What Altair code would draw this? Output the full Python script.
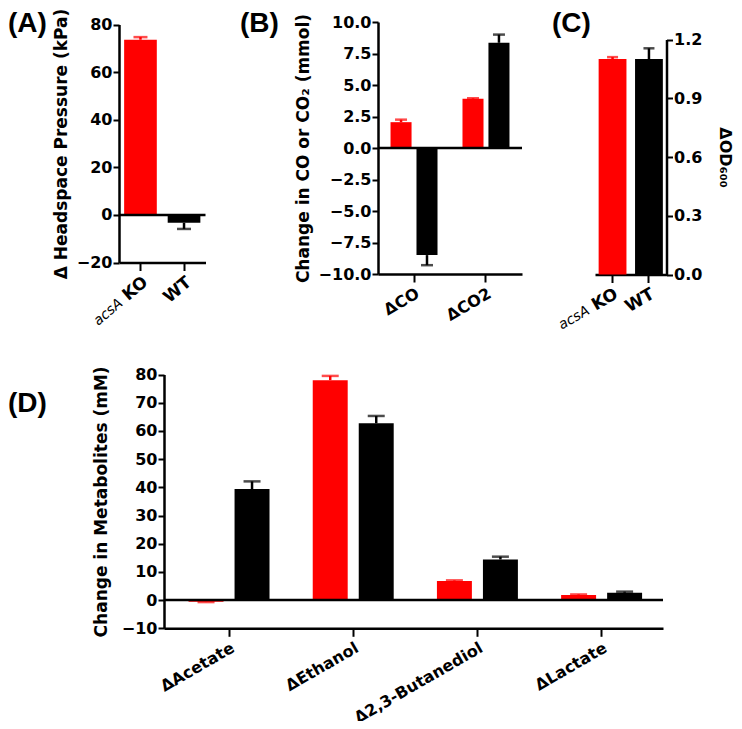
import altair as alt
import pandas as pd

FONT = "DejaVu Sans"
LABEL_FONT = "Liberation Sans"
RED = "#ff0000"
BLACK = "#000000"

# ---------------- data ----------------
strains = ["acsA KO", "WT"]

# (A) headspace pressure
a_values = [73.6, -3.3]
a_errors = [1.1, 2.6]

# (B) change in CO / CO2
b_gases = ["ΔCO", "ΔCO2"]
b_ko = [2.05, 3.9]
b_ko_err = [0.2, 0.05]
b_wt = [-8.5, 8.35]
b_wt_err = [0.8, 0.65]

# (C) OD600
c_values = [1.10, 1.10]
c_errors = [0.01, 0.055]

# (D) metabolites
d_metabolites = ["ΔAcetate", "ΔEthanol", "Δ2,3-Butanediol", "ΔLactate"]
d_ko = [-0.6, 78.0, 6.8, 1.8]
d_ko_err = [0.1, 1.5, 0.2, 0.2]
d_wt = [39.4, 62.7, 14.4, 2.6]
d_wt_err = [2.7, 2.6, 1.0, 0.4]

panel_letters = ["(A)", "(B)", "(C)", "(D)"]

W, H = 726, 713


def make_df(cats, groups, vals, errs):
    df = pd.DataFrame({"cat": cats, "grp": groups, "value": vals, "err": errs})
    df["end"] = [v + (e if v >= 0 else -e) for v, e in zip(df["value"], df["err"])]
    return df


color_scale = alt.Scale(domain=strains, range=[RED, BLACK])

axis_common = dict(
    domainColor="black", domainWidth=2.5, tickColor="black", tickWidth=2,
    labelFont=FONT, labelFontSize=16, labelFontWeight="bold", labelColor="black",
    titleFont=FONT, titleFontSize=17, titleFontWeight="bold", titleColor="black",
    grid=False,
)


def yaxis(**kw):
    d = dict(axis_common)
    d.update(dict(tickSize=6, labelPadding=1))
    d.update(kw)
    return alt.Axis(**d)


def xaxis(**kw):
    d = dict(axis_common)
    d.update(dict(tickSize=8, labelPadding=3))
    d.update(kw)
    return alt.Axis(**d)


def panel(df, sort, xs, ys, ytitle, ya, xa, cap, offset_scale=None, zero=None, extra=None):
    base = alt.Chart(df)
    xenc = alt.X("cat:N", sort=sort, scale=xs, axis=xa, title=None)
    xenc_plain = alt.X("cat:N", sort=sort, title=None)
    col = alt.Color("grp:N", scale=color_scale, legend=None)
    enc_extra = {}
    if offset_scale is not None:
        enc_extra["xOffset"] = alt.XOffset("grp:N", sort=strains, scale=offset_scale)
    bars = base.mark_bar().encode(
        x=xenc, y=alt.Y("value:Q", scale=ys, axis=ya, title=ytitle), color=col, **enc_extra
    )
    lines = base.mark_rule(strokeWidth=2.5).encode(
        x=xenc_plain, y=alt.Y("value:Q", title=ytitle), y2="end:Q", color=col, **enc_extra
    )
    caps = base.mark_tick(thickness=2.5, size=cap).encode(
        x=xenc_plain, y=alt.Y("end:Q", title=ytitle), color=col, **enc_extra
    )
    layers = [bars, lines, caps]
    if zero is not None:
        z = alt.Chart(pd.DataFrame({"z": [0]})).mark_rule(color="black", strokeWidth=2.5).encode(
            y=alt.Y("z:Q", title=ytitle), x=alt.value(zero[0]), x2=alt.value(zero[1])
        )
        layers.append(z)
    if extra is not None:
        layers.extend(extra)
    return alt.layer(*layers)


def acsa_text(sort, ypix, angle, dx):
    return alt.Chart(pd.DataFrame({"cat": ["acsA KO"], "t": ["acsA"]})).mark_text(
        angle=angle, align="right", baseline="top", dx=dx, dy=2,
        font=FONT, fontStyle="italic", fontSize=14, color="black",
    ).encode(x=alt.X("cat:N", sort=sort, title=None), y=alt.value(ypix), text="t:N")


ko_expr = "datum.value == 'acsA KO' ? 'KO' : datum.value"

# ---------------- panel A ----------------
dfA = make_df(strains, strains, a_values, a_errors)
pA = panel(
    dfA, strains,
    alt.Scale(domain=strains, range=[111, 197.5], paddingInner=0.25, paddingOuter=0.118),
    alt.Scale(domain=[-20, 80], range=[254.5, 16.5], nice=False, zero=False),
    "Δ Headspace Pressure (kPa)",
    yaxis(orient="left", offset=-111, values=[-20, 0, 20, 40, 60, 80], titlePadding=6,
          titleFontSize=17),
    xaxis(orient="bottom", offset=254.5 - H, labelAngle=-40, labelExpr=ko_expr, labelFontSize=17),
    14, zero=(111, 197.5),
    extra=[acsa_text(strains, 254.5 + 8 + 3, 320, -33)],
)

# ---------------- panel B ----------------
dfB = make_df(b_gases * 2, ["acsA KO"] * 2 + ["WT"] * 2, b_ko + b_wt, b_ko_err + b_wt_err)
pB = panel(
    dfB, b_gases,
    alt.Scale(domain=b_gases, range=[370, 514], paddingInner=0.347, paddingOuter=0.174),
    alt.Scale(domain=[-10, 10], range=[266, 14], nice=False, zero=False),
    "Change in CO or  CO₂  (mmol)",
    yaxis(orient="left", offset=-370, values=[-10, -7.5, -5, -2.5, 0, 2.5, 5, 7.5, 10],
          format=".1f", titlePadding=6, titleFontSize=17),
    xaxis(orient="bottom", offset=266 - H, labelAngle=-30),
    12, offset_scale=alt.Scale(paddingInner=0.19, paddingOuter=0), zero=(370, 514),
)

# ---------------- panel C ----------------
dfC = make_df(strains, strains, c_values, c_errors)
pC = panel(
    dfC, strains,
    alt.Scale(domain=strains, range=[587, 658.5], paddingInner=0.236, paddingOuter=0.10),
    alt.Scale(domain=[0, 1.2], range=[266.5, 31.5], nice=False, zero=False),
    "ΔOD₆₀₀",
    yaxis(orient="right", offset=658.5 - W, values=[0, 0.3, 0.6, 0.9, 1.2], format=".1f",
          titlePadding=15, titleAngle=90, titleFontSize=16),
    xaxis(orient="bottom", offset=266.5 - H, labelAngle=-30, labelExpr=ko_expr, labelFontSize=17),
    11,
    extra=[acsa_text(strains, 266.5 + 8 + 3, 330, -33)],
)

# ---------------- panel D ----------------
dfD = make_df(d_metabolites * 2, ["acsA KO"] * 4 + ["WT"] * 4, d_ko + d_wt, d_ko_err + d_wt_err)
pD = panel(
    dfD, d_metabolites,
    alt.Scale(domain=d_metabolites, range=[156, 655], paddingInner=0.348, paddingOuter=0.183, align=0.54),
    alt.Scale(domain=[-10, 80], range=[620.3, 366.5], nice=False, zero=False),
    "Change in Metabolites (mM)",
    yaxis(orient="left", offset=-156, values=list(range(-10, 81, 10)), titlePadding=11),
    xaxis(orient="bottom", offset=620.3 - H, labelAngle=-30),
    17, offset_scale=alt.Scale(paddingInner=0.24, paddingOuter=0), zero=(156, 655),
)

# ---------------- panel letters ----------------
letters = alt.Chart(pd.DataFrame({
    "t": panel_letters, "px": [0, 232, 544, 0], "py": [24, 24, 24, 404],
})).mark_text(align="left", baseline="alphabetic", font=LABEL_FONT, fontSize=28,
              fontWeight="bold", color="black").encode(
    text="t:N",
    x=alt.X("px:Q", scale=alt.Scale(domain=[0, W], range=[0, W]), axis=None),
    y=alt.Y("py:Q", scale=alt.Scale(domain=[0, H], range=[0, H]), axis=None),
)

chart = alt.layer(pA, pB, pC, pD, letters).resolve_scale(
    x="independent", y="independent", xOffset="independent"
).properties(
    width=W, height=H, padding=0,
    autosize=alt.AutoSizeParams(type="none"),
    background="white",
).configure_view(stroke=None)

chart.save("out.html", embed_options={"renderer": "svg", "actions": False})
